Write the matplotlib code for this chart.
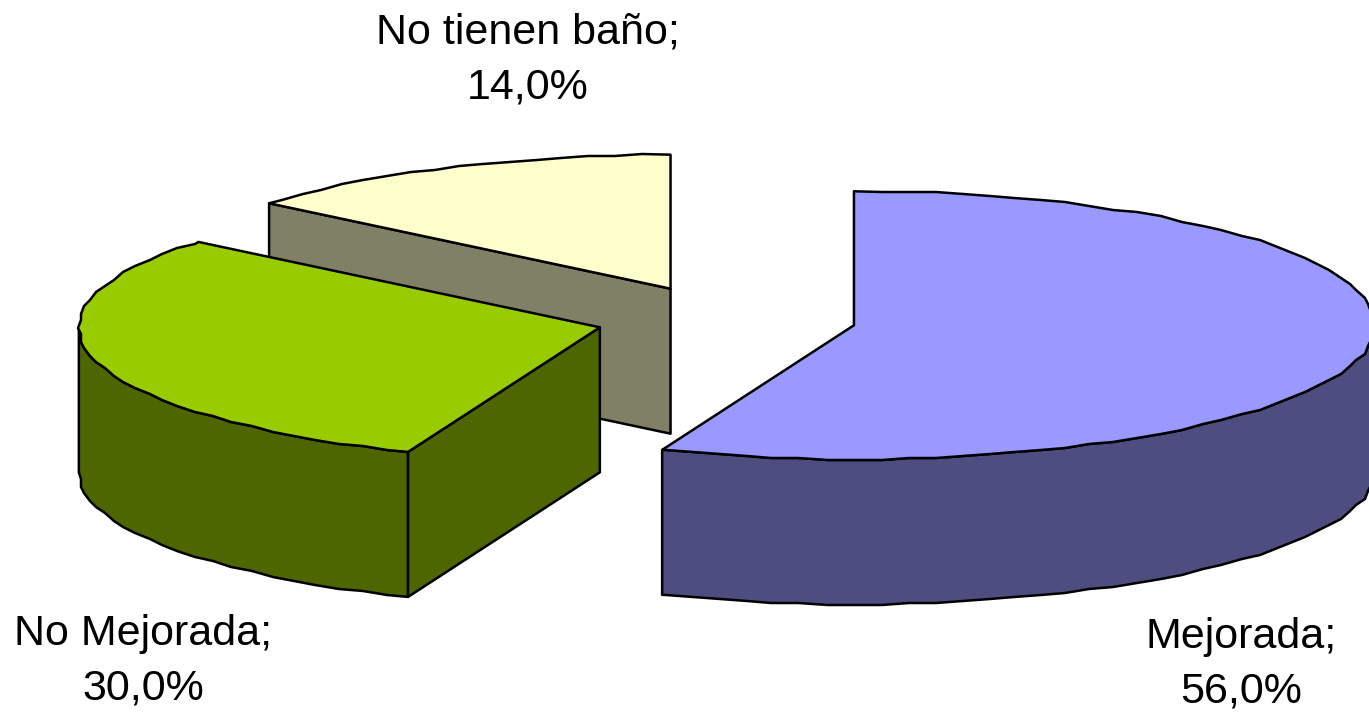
import numpy as np
import matplotlib
matplotlib.use("Agg")
import matplotlib.pyplot as plt
from matplotlib.patches import Polygon

labels=["Mejorada","No Mejorada","No tienen baño"]
values=[56.0,30.0,14.0]

top_colors=["#9999FF","#99CC00","#FFFFCC"]
side_colors=["#4D4D80","#4D6600","#808066"]

# pie geometry in pixels
cx,cy=726,319
rx,ry=521,134
depth=145
explode=0.25

def point(center,ang,r=1.0):
    a=np.radians(ang)
    return center[0]+r*rx*np.sin(a),center[1]-r*ry*np.cos(a)

# the original outline is a bit wobbly, so snap the arc to a small grid
def arc(center,a1,a2,step=3):
    angs=[a for a in np.arange(0,361,step) if a1<a<a2]
    mid=[point(center,a) for a in angs]
    mid=[(round(x/3)*3,round(y/2)*2) for x,y in mid]
    return [point(center,a1)]+mid+[point(center,a2)]

def down(pts):
    return [(x,y+depth) for x,y in pts]

def poly(ax,pts,color,z):
    ax.add_patch(Polygon(pts,closed=True,facecolor=color,edgecolor="black",linewidth=1.8,joinstyle="round",zorder=z))

fig=plt.figure(figsize=(13.69,7.13),dpi=100)
ax=fig.add_axes([0,0,1,1])
ax.set_xlim(0,1369)
ax.set_ylim(713,0)
ax.axis("off")

# slice angles, clockwise from 12 o'clock
edges=np.concatenate([[0],np.cumsum(values)])*3.6
centers=[]
for i in range(3):
    mid=(edges[i]+edges[i+1])/2
    centers.append(point((cx,cy),mid,explode))

# back slice first
c=centers[2]
a1,a2=edges[2],edges[3]
poly(ax,[c,point(c,a1),(point(c,a1)[0],point(c,a1)[1]+depth),(c[0],c[1]+depth)],side_colors[2],1)
poly(ax,[c]+arc(c,a1,a2),top_colors[2],2)

# left slice
c=centers[1]
a1,a2=edges[1],edges[2]
outer=arc(c,a1,270)
poly(ax,outer+down(outer)[::-1],side_colors[1],3)
poly(ax,[c,point(c,a1),(point(c,a1)[0],point(c,a1)[1]+depth),(c[0],c[1]+depth)],side_colors[1],3)
poly(ax,[c]+arc(c,a1,a2),top_colors[1],4)

# big slice
c=centers[0]
a1,a2=edges[0],edges[1]
outer=arc(c,90,a2)
poly(ax,outer+down(outer)[::-1],side_colors[0],5)
poly(ax,[c]+arc(c,a1,a2),top_colors[0],6)

# data labels
fs=31
font="Liberation Sans"
label_pos=[(1241,664),(143,661),(528,60)]
for i in range(3):
    txt=f"{labels[i]};\n{values[i]:.1f}%".replace(".",",")
    ax.text(label_pos[i][0],label_pos[i][1],txt,ha="center",va="center",fontsize=fs,family=font,linespacing=1.47,color="black",zorder=10)

fig.savefig("out.png",dpi=100)
